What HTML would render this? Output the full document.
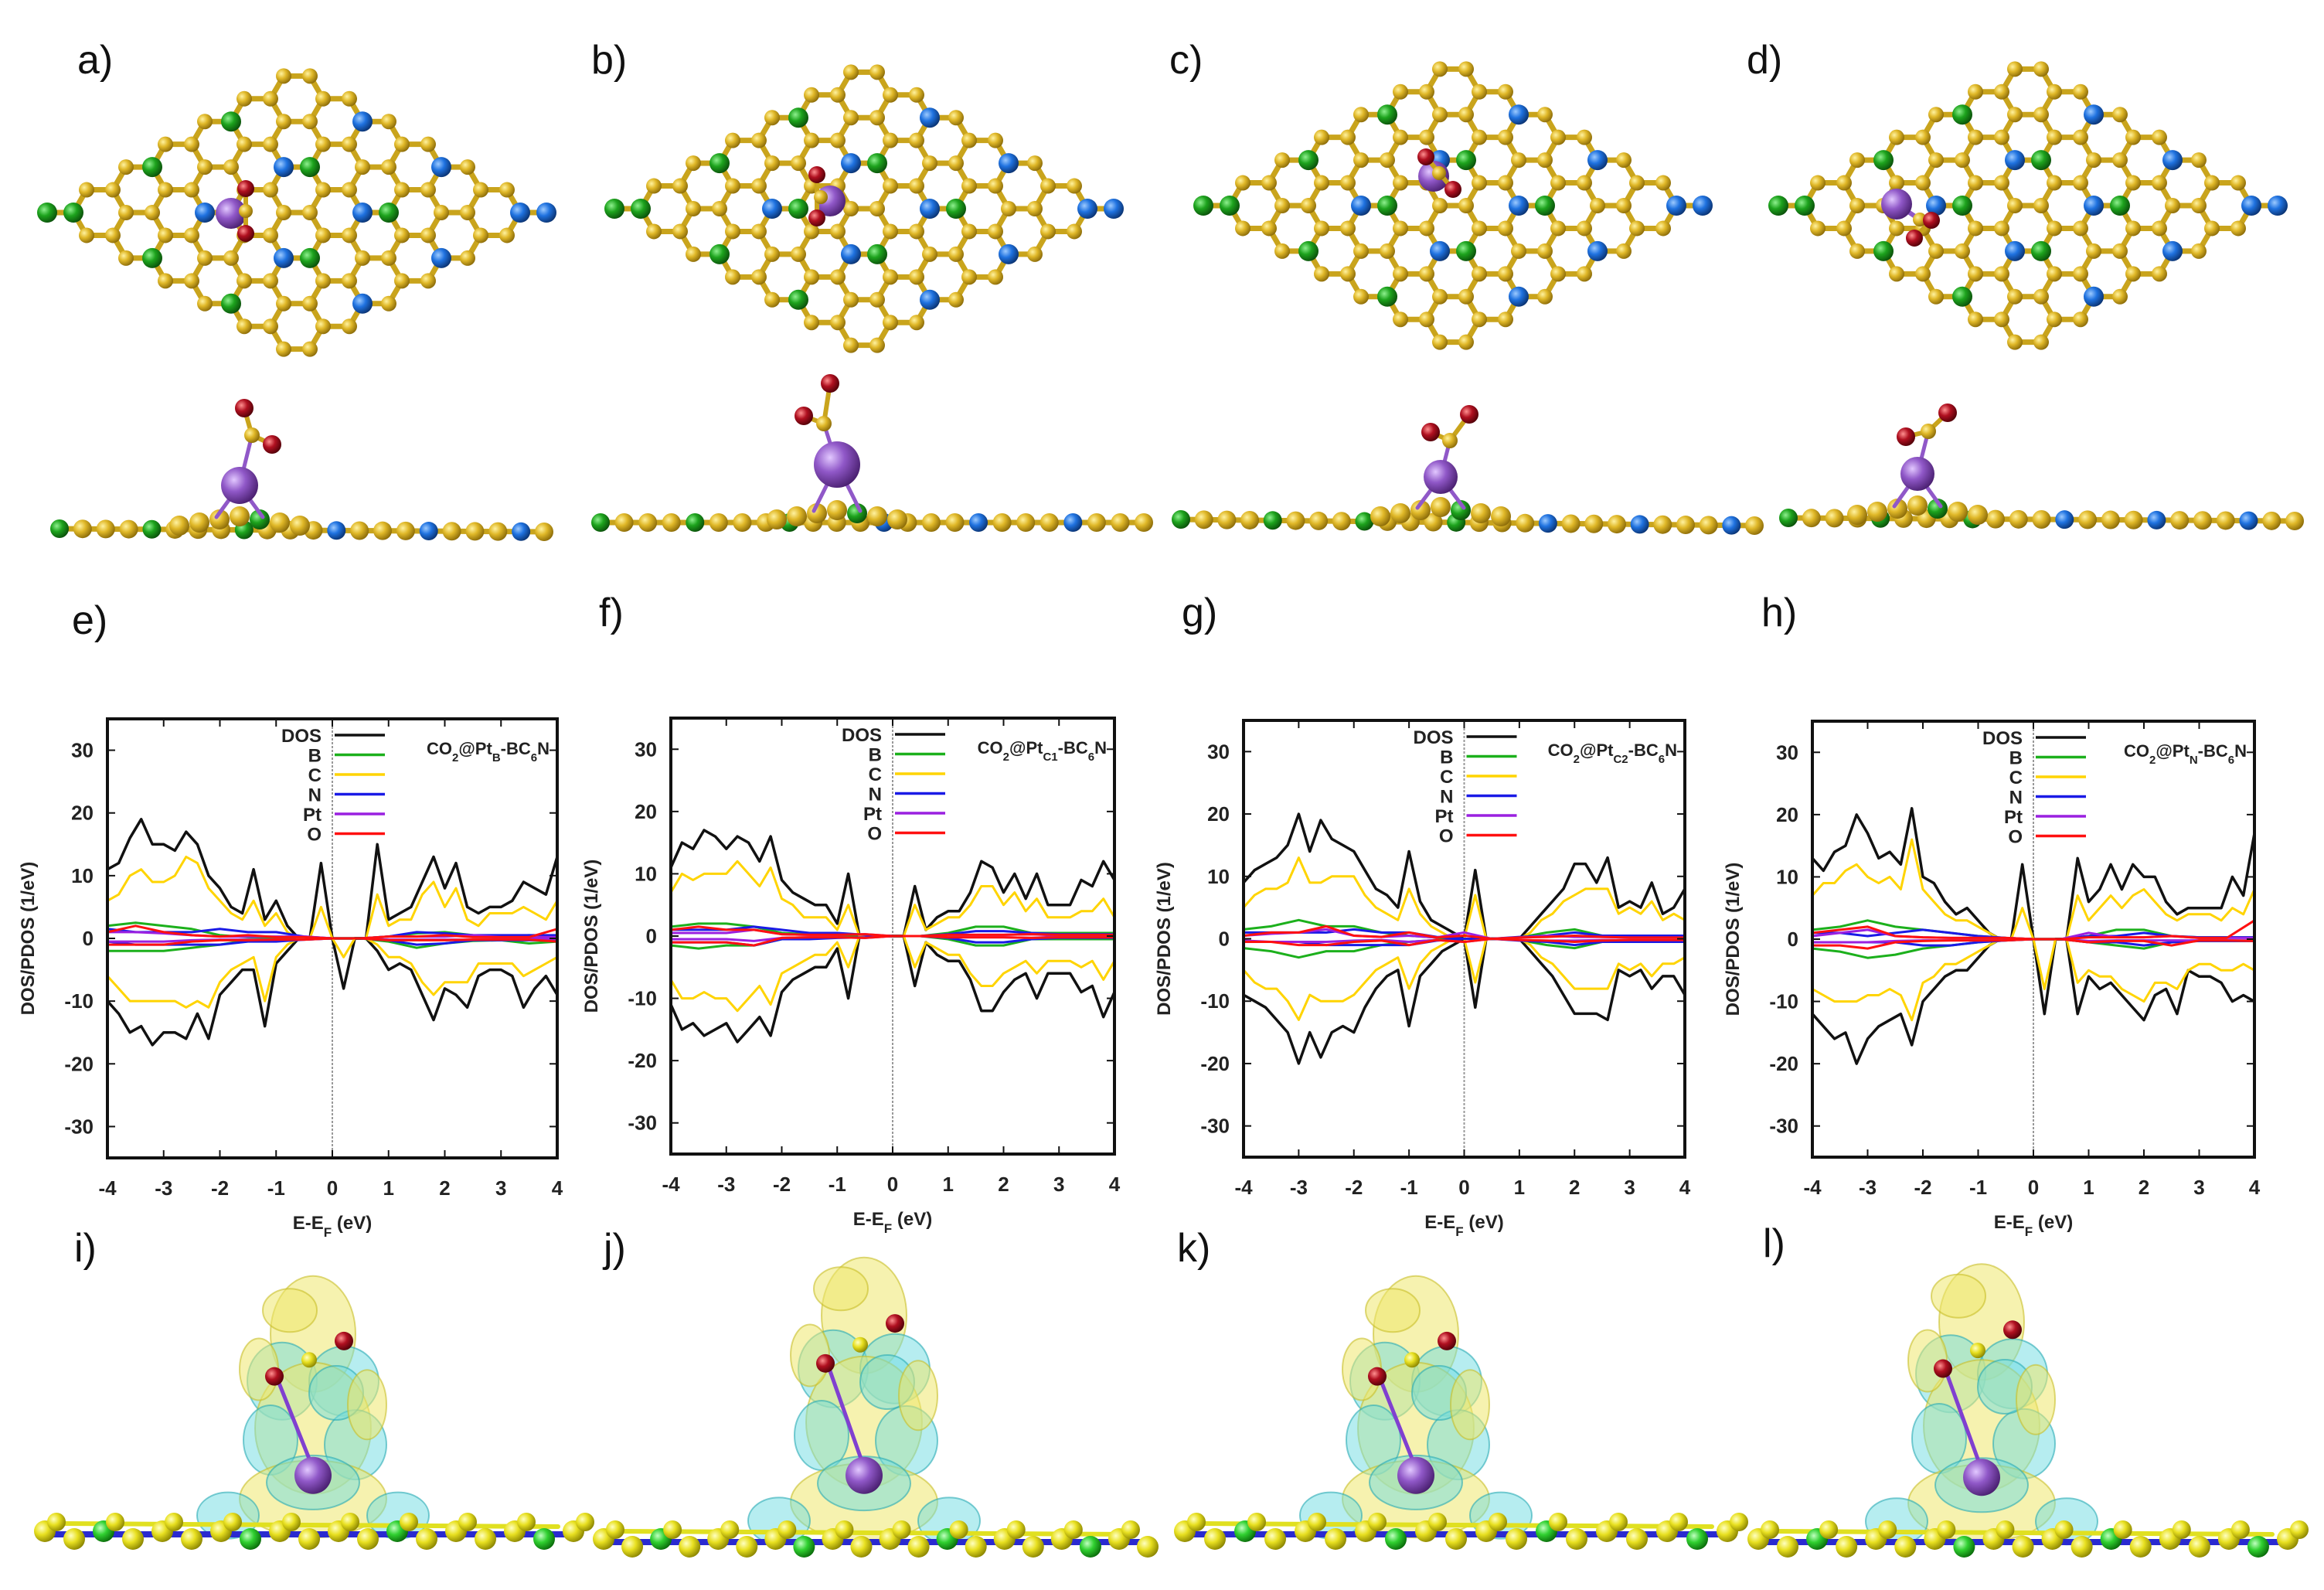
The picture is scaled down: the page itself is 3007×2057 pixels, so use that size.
<!DOCTYPE html>
<html><head><meta charset="utf-8"><style>
html,body{margin:0;padding:0;background:#fff;}
svg{display:block;}
text{font-family:"Liberation Sans",Arial,sans-serif;}
</style></head>
<body>
<svg id="fig" xmlns="http://www.w3.org/2000/svg" width="3007" height="2057" viewBox="0 0 3007 2057">
<defs>
<radialGradient id="g-gold" cx="35%" cy="35%" r="70%"><stop offset="0" stop-color="#fff2a0"/><stop offset="0.45" stop-color="#e0b828"/><stop offset="1" stop-color="#8a6a08"/></radialGradient>
<radialGradient id="g-green" cx="35%" cy="35%" r="70%"><stop offset="0" stop-color="#8ef08e"/><stop offset="0.45" stop-color="#1da31d"/><stop offset="1" stop-color="#0a4f0a"/></radialGradient>
<radialGradient id="g-blue" cx="35%" cy="35%" r="70%"><stop offset="0" stop-color="#9ccaff"/><stop offset="0.45" stop-color="#1f72e0"/><stop offset="1" stop-color="#0a3270"/></radialGradient>
<radialGradient id="g-purple" cx="35%" cy="35%" r="70%"><stop offset="0" stop-color="#e2c8ff"/><stop offset="0.45" stop-color="#9058c8"/><stop offset="1" stop-color="#4a2070"/></radialGradient>
<radialGradient id="g-red" cx="35%" cy="35%" r="70%"><stop offset="0" stop-color="#ff9090"/><stop offset="0.45" stop-color="#b01020"/><stop offset="1" stop-color="#500008"/></radialGradient>
<radialGradient id="g-yellow" cx="35%" cy="35%" r="70%"><stop offset="0" stop-color="#ffffc0"/><stop offset="0.45" stop-color="#e8e020"/><stop offset="1" stop-color="#8a8400"/></radialGradient>
<radialGradient id="g-lgreen" cx="35%" cy="35%" r="70%"><stop offset="0" stop-color="#c0ffc0"/><stop offset="0.45" stop-color="#30d030"/><stop offset="1" stop-color="#0a6a0a"/></radialGradient>
</defs>
<g id="layer"></g>
</svg>
<script>
// ---------- DOS data ----------
const energy = [-4.0,-3.8,-3.6,-3.4,-3.2,-3.0,-2.8,-2.6,-2.4,-2.2,-2.0,-1.8,-1.6,-1.4,-1.2,-1.0,-0.8,-0.6,-0.4,-0.2,0.0,0.2,0.4,0.6,0.8,1.0,1.2,1.4,1.6,1.8,2.0,2.2,2.4,2.6,2.8,3.0,3.2,3.4,3.6,3.8,4.0];
const smallEnergy = [-4.0,-3.5,-3.0,-2.5,-2.0,-1.5,-1.0,-0.5,0.0,0.5,1.0,1.5,2.0,2.5,3.0,3.5,4.0];
const xTicks = [-4,-3,-2,-1,0,1,2,3,4];
const yTicks = [-30,-20,-10,0,10,20,30];
const legendLabels = ["DOS","B","C","N","Pt","O"];

const dosUpE = [11,12,16,19,15,15,14,17,15,10,8,5,4,11,3,6,2,0,0,12,0,0,0,0,15,3,4,5,9,13,8,12,5,4,5,5,6,9,8,7,13];
const dosDnE = [-10,-12,-15,-14,-17,-15,-15,-16,-12,-16,-9,-7,-5,-5,-14,-4,-2,0,0,0,0,-8,0,0,-2,-5,-4,-5,-9,-13,-8,-9,-11,-6,-5,-5,-6,-11,-8,-6,-9];
const cUpE = [6,7,10,11,9,9,10,13,12,8,6,4,3,6,2,4,1,0,0,5,0,0,0,0,7,2,3,3,7,9,5,8,3,2,4,4,4,5,4,3,6];
const cDnE = [-6,-8,-10,-10,-10,-10,-10,-11,-10,-11,-7,-5,-4,-3,-10,-3,-1,0,0,0,0,-3,0,0,-1,-3,-3,-4,-7,-9,-7,-7,-7,-4,-4,-4,-4,-6,-5,-4,-3];

const dosUpF = [11,15,14,17,16,14,16,15,12,16,9,7,6,5,5,2,10,0,0,0,0,0,8,1,3,4,4,7,12,11,7,10,6,10,5,5,5,9,8,12,9];
const dosDnF = [-11,-15,-14,-16,-15,-14,-17,-15,-13,-16,-9,-7,-6,-5,-5,-2,-10,0,0,0,0,0,-8,-1,-3,-4,-4,-7,-12,-12,-9,-7,-6,-10,-6,-6,-6,-9,-8,-13,-9];
const cUpF = [7,10,9,10,10,10,12,10,8,11,6,5,3,3,3,1,5,0,0,0,0,0,5,1,2,3,3,5,8,8,5,7,4,6,3,3,3,4,4,6,3];
const cDnF = [-7,-10,-10,-9,-10,-10,-12,-10,-8,-11,-6,-5,-4,-3,-3,-1,-5,0,0,0,0,0,-5,-1,-2,-3,-3,-6,-8,-8,-6,-5,-4,-6,-4,-4,-4,-5,-4,-7,-4];

const dosUpG = [9,11,12,13,15,20,14,19,16,15,14,11,8,7,5,14,6,3,2,1,0,11,0,0,0,0,2,4,6,8,12,12,9,13,5,6,5,9,4,5,8];
const dosDnG = [-9,-10,-11,-13,-15,-20,-15,-19,-15,-14,-15,-11,-8,-6,-5,-14,-6,-4,-2,-1,0,-11,0,0,0,0,-2,-4,-6,-9,-12,-12,-12,-13,-5,-6,-5,-8,-6,-6,-9];
const cUpG = [5,7,8,8,9,13,9,9,10,10,10,7,5,4,3,8,4,2,1,0,0,7,0,0,0,0,1,3,4,6,7,8,8,8,4,5,4,6,3,4,3];
const cDnG = [-5,-7,-8,-8,-10,-13,-9,-10,-10,-10,-9,-7,-5,-4,-3,-8,-4,-2,-1,0,0,-7,0,0,0,0,-1,-3,-4,-6,-8,-8,-8,-8,-4,-5,-4,-6,-4,-4,-3];

const dosUpH = [13,11,14,15,20,17,13,14,12,21,10,9,6,4,5,3,1,0,0,12,0,0,0,0,13,6,8,12,8,12,10,10,6,4,5,5,5,5,10,7,17];
const dosDnH = [-12,-14,-16,-15,-20,-16,-14,-13,-12,-17,-10,-8,-6,-5,-5,-3,-1,0,0,0,0,-12,0,0,-12,-6,-8,-7,-9,-11,-13,-9,-8,-12,-5,-6,-6,-7,-10,-9,-10];
const cUpH = [7,9,9,11,12,10,9,10,8,16,8,6,4,3,3,2,1,0,0,5,0,0,0,0,7,3,5,7,5,7,8,6,4,3,4,4,4,3,5,4,8];
const cDnH = [-8,-9,-10,-10,-10,-9,-9,-8,-9,-13,-7,-6,-4,-4,-3,-2,-1,0,0,0,0,-8,0,0,-7,-5,-6,-6,-8,-9,-10,-7,-7,-8,-5,-4,-4,-5,-5,-4,-5];

const bUpE = [2,2.5,2,1.5,0.5,0.2,0.1,0,0,0,0.3,0.8,1,0.5,0.3,0.5,0.3];
const bDnE = [-2,-2,-2,-1.5,-1,-0.3,-0.1,0,0,0,-0.5,-1.5,-0.8,-0.4,-0.3,-0.8,-0.5];
const nUpE = [1.5,1,1,1,1.5,1,1,0.3,0,0,0.3,1,0.8,0.5,0.5,0.5,0.5];
const nDnE = [-0.5,-1,-1,-1,-1,-0.5,-0.5,-0.2,0,0,-0.3,-1,-0.8,-0.3,-0.3,-0.3,-0.3];
const oUpE = [1,2,1,0.5,0.3,0.5,0.2,0.2,0,0,0.3,0.3,0.5,0.2,0.2,0.2,1.5];
const oDnE = [-1,-1,-1,-0.5,-0.3,-0.3,-0.2,-0.2,0,0,-0.3,-0.3,-0.3,-0.2,-0.2,-0.2,-0.5];
const ptUpE = [1,1,0.8,0.5,0.3,0.3,0.3,0.3,0,0,0.3,0.3,0.3,0.5,0.2,0.2,0.2];
const ptDnE = [-0.5,-0.5,-0.5,-0.3,-0.2,-0.2,-0.2,-0.2,0,0,-0.2,-0.2,-0.2,-0.2,-0.1,-0.1,-0.1];

const bUpF = [1.5,2,2,1.5,0.5,0.3,0.2,0,0,0,0.5,1.5,1.5,0.5,0.5,0.5,0.5];
const bDnF = [-1.5,-2,-1.5,-1.5,-0.5,-0.3,-0.2,0,0,0,-0.5,-1.5,-1.5,-0.5,-0.5,-0.5,-0.5];
const nUpF = [1,1,1,1.5,1,0.5,0.5,0.2,0,0,0.3,0.8,0.8,0.5,0.3,0.3,0.3];
const nDnF = [-1,-1,-1,-1.5,-0.5,-0.5,-0.3,-0.2,0,0,-0.3,-1,-1,-0.5,-0.3,-0.3,-0.3];
const oUpF = [1,1.5,1,1,0.3,0.2,0.2,0.3,0,0,0.2,0.2,0.2,0.3,0.2,0.2,0.2];
const oDnF = [-1,-1,-1,-1.5,-0.3,-0.2,-0.2,-0.3,0,0,-0.2,-0.2,-0.2,-0.3,-0.2,-0.2,-0.2];
const ptUpF = [0.5,0.5,0.5,1,0.3,0.2,0.2,0.3,0,0,0.2,0.2,0.2,0.3,0.1,0.1,0.1];
const ptDnF = [-0.5,-0.5,-0.5,-0.8,-0.3,-0.2,-0.2,-0.3,0,0,-0.2,-0.2,-0.2,-0.3,-0.1,-0.1,-0.1];

const bUpG = [1.5,2,3,2,2,1,0.5,0.2,0,0,0.2,1,1.5,0.5,0.5,0.5,0.5];
const bDnG = [-1.5,-2,-3,-2,-2,-1,-0.5,-0.2,0,0,-0.2,-1,-1.5,-0.5,-0.5,-0.5,-0.5];
const nUpG = [1,1,1,1,1.5,1,1,0.3,0,0,0.3,0.5,1,0.5,0.5,0.5,0.5];
const nDnG = [-0.5,-0.5,-0.5,-1,-1,-1,-1,-0.3,0,0,-0.3,-0.5,-1,-0.5,-0.5,-0.5,-0.5];
const oUpG = [0.5,1,1,2,0.5,0.3,1,0.2,0.5,0,0.2,0.3,0.5,0.3,0.2,0.2,0.2];
const oDnG = [-0.5,-0.5,-1,-1,-0.5,-0.3,-1,-0.2,-0.5,0,-0.2,-0.3,-0.5,-0.3,-0.2,-0.2,-0.2];
const ptUpG = [0.5,0.8,1,1.5,0.5,0.3,0.5,0.2,1,0,0.2,0.5,0.3,0.3,0.2,0.2,0.2];
const ptDnG = [-0.3,-0.5,-0.5,-0.5,-0.3,-0.2,-0.5,-0.2,-0.5,0,-0.2,-0.3,-0.3,-0.2,-0.2,-0.2,-0.2];

const bUpH = [1.5,2,3,2,1.5,1,0.5,0.2,0,0,0.5,1.5,1.5,0.5,0.3,0.3,0.3];
const bDnH = [-1.5,-2,-3,-2.5,-1.5,-1,-0.5,-0.2,0,0,-0.5,-1,-1.5,-0.5,-0.3,-0.3,-0.3];
const nUpH = [1,1,0.5,1,1.5,1,0.5,0.2,0,0,0.5,0.5,1,0.5,0.3,0.3,0.3];
const nDnH = [-0.5,-0.5,-0.5,-0.5,-1,-1,-0.5,-0.2,0,0,-0.5,-0.5,-1,-0.5,-0.3,-0.3,-0.3];
const oUpH = [1,1.5,2,0.5,0.3,0.2,0.2,0.2,0,0,0.3,0.3,0.3,0.5,0.2,0.2,3];
const oDnH = [-1,-1,-1.5,-0.5,-0.3,-0.2,-0.2,-0.2,0,0,-0.5,-0.3,-0.3,-1,-0.2,-0.2,-0.3];
const ptUpH = [0.5,1,1.5,0.5,0.3,0.2,0.2,0.2,0,0,1,0.3,0.3,0.5,0.2,0.2,0.2];
const ptDnH = [-0.5,-0.5,-0.5,-0.3,-0.2,-0.2,-0.2,-0.2,0,0,-0.3,-0.2,-0.2,-0.2,-0.2,-0.2,-0.2];

// ---------- helpers ----------
const NS = "http://www.w3.org/2000/svg";
const layer = document.getElementById("layer");
function el(tag, parent){ const e = document.createElementNS(NS, tag); (parent||layer).appendChild(e); return e; }
function at(e, k, v){ e.setAttribute(k, v); return e; }

function ball(parent, x, y, r, grad, name){
  const c = el("circle", parent);
  at(c,"cx",x); at(c,"cy",y); at(c,"r",r); at(c,"fill","url(#"+grad+")");
  
  
  return c;
}
function bond(parent, x1,y1,x2,y2,color,w){
  const l = el("line", parent);
  at(l,"x1",x1);at(l,"y1",y1);at(l,"x2",x2);at(l,"y2",y2);
  at(l,"stroke",color);at(l,"stroke-width",w);at(l,"stroke-linecap","round");
  
  
  return l;
}
function label(txt, x, y, size){
  const t = el("text");
  at(t,"x",x);at(t,"y",y);at(t,"font-size",size);at(t,"fill","#111");
  at(t,"font-family","'DejaVu Sans','Liberation Sans',sans-serif");
  t.textContent = txt;
  
  
}

// ---------- top views ----------
function topView(name, cx, cy, pt, oxy){
  const g = el("g");
  
  
  const a = 34, s = Math.sqrt(3)*a;
  const atoms = [];
  function add(x,y,col){
    for(const p of atoms){ if(Math.hypot(p.x-x,p.y-y)<5){ if(col!=="g-gold") p.col=col; return; } }
    atoms.push({x,y,col});
  }
  for(let i=0;i<6;i++) for(let j=0;j<6;j++){
    const hx = cx + ((i-2.5)+(j-2.5))*s*0.866;
    const hy = cy + ((j-2.5)-(i-2.5))*s*0.5;
    for(let k=0;k<6;k++){
      let col = "g-gold";
      if(k===3 && i%2===0 && j%2===0) col = "g-green";
      if(k===0 && i%2===1 && j%2===1) col = "g-blue";
      add(hx + a*Math.cos(k*Math.PI/3), hy + a*Math.sin(k*Math.PI/3), col);
    }
  }
  add(cx-7.5*a-2*a, cy, "g-green"); add(cx+7.5*a+2*a, cy, "g-blue");
  for(let m=0;m<atoms.length;m++) for(let n=m+1;n<atoms.length;n++){
    const d = Math.hypot(atoms[m].x-atoms[n].x, atoms[m].y-atoms[n].y);
    if(d<a*1.1) bond(g, atoms[m].x,atoms[m].y,atoms[n].x,atoms[n].y,"#c9a41c",7);
  }
  atoms.forEach(p=>{
    const nm = p.col==="g-green"?"boron-atom":(p.col==="g-blue"?"nitrogen-atom":"carbon-atom");
    ball(g, p.x, p.y, p.col==="g-gold"?10:13, p.col, nm);
  });
  bond(g, pt.x, pt.y, oxy[2].x, oxy[2].y, "#9058c8", 6);
  ball(g, pt.x, pt.y, 20, "g-purple", "platinum-atom");
  bond(g, oxy[0].x, oxy[0].y, oxy[1].x, oxy[1].y, "#c9a41c", 6);
  ball(g, oxy[2].x, oxy[2].y, 9, "g-gold", "co2-carbon");
  ball(g, oxy[0].x, oxy[0].y, 11, "g-red", "oxygen-atom");
  ball(g, oxy[1].x, oxy[1].y, 11, "g-red", "oxygen-atom");
}
topView("top-view-a", 384, 275, {x:299,y:276}, [{x:318,y:244},{x:318,y:302},{x:318,y:273}]);
topView("top-view-b", 1118, 270, {x:1074,y:260}, [{x:1057,y:226},{x:1057,y:282},{x:1062,y:255}]);
topView("top-view-c", 1880, 266, {x:1855,y:228}, [{x:1845,y:203},{x:1880,y:245},{x:1862,y:224}]);
topView("top-view-d", 2624, 266, {x:2454,y:264}, [{x:2499,y:285},{x:2477,y:308},{x:2484,y:284}]);

// ---------- side views ----------
function sideView(name, x0, x1, y, tilt, pt, o1, o2, c, ptR){
  const g = el("g");
  
  
  const n = Math.round((x1-x0)/30);
  bond(g, x0, y, x1, y+tilt, "#c9a41c", 7);
  for(let k=0;k<=n;k++){
    const x = x0 + (x1-x0)*k/n, yy = y + tilt*k/n;
    let grad = "g-gold", nm="carbon-atom";
    if(k%4===0 && x < (x0+x1)/2) { grad="g-green"; nm="boron-atom"; }
    if(k%4===0 && x >= (x0+x1)/2) { grad="g-blue"; nm="nitrogen-atom"; }
    ball(g, x, yy, 12, grad, nm);
  }
  for(let k=-3;k<=3;k++){ ball(g, pt.x + k*26, y - 16 + Math.abs(k)*4, 13, k===1?"g-green":"g-gold", "carbon-atom-raised"); }
  bond(g, pt.x, pt.y, pt.x-30, y-15, "#9058c8", 5);
  bond(g, pt.x, pt.y, pt.x+30, y-15, "#9058c8", 5);
  bond(g, pt.x, pt.y, c.x, c.y, "#9058c8", 5);
  bond(g, c.x, c.y, o1.x, o1.y, "#c9a41c", 6);
  bond(g, c.x, c.y, o2.x, o2.y, "#c9a41c", 6);
  ball(g, pt.x, pt.y, ptR, "g-purple", "platinum-atom");
  ball(g, c.x, c.y, 10, "g-gold", "co2-carbon");
  ball(g, o1.x, o1.y, 12, "g-red", "oxygen-atom");
  ball(g, o2.x, o2.y, 12, "g-red", "oxygen-atom");
}
sideView("side-view-a", 77, 704, 684, 4, {x:310,y:628}, {x:316,y:528}, {x:352,y:575}, {x:326,y:563}, 24);
sideView("side-view-b", 777, 1480, 676, 0, {x:1083,y:601}, {x:1074,y:496}, {x:1040,y:538}, {x:1066,y:548}, 30);
sideView("side-view-c", 1528, 2270, 672, 8, {x:1864,y:617}, {x:1851,y:559}, {x:1901,y:536}, {x:1876,y:570}, 22);
sideView("side-view-d", 2314, 2969, 670, 4, {x:2481,y:613}, {x:2466,y:565}, {x:2520,y:534}, {x:2495,y:558}, 22);

// ---------- charge density (bottom) ----------
function isoView(name, x0, x1, y, cx, top){
  const g = el("g");
  
  
  const blobs = [[0,0.15,55,75,"y"],[-40,0.35,45,50,"c"],[40,0.35,45,45,"c"],[0,0.55,75,85,"y"],[-55,0.6,35,45,"c"],[55,0.62,40,45,"c"],[0,0.85,95,50,"y"],[-110,0.92,40,30,"c"],[110,0.92,40,30,"c"],[-30,0.05,35,28,"y"],[30,0.4,35,35,"c"],[0,0.78,60,35,"c"],[-70,0.3,25,40,"y"],[70,0.45,25,45,"y"]];
  const h = y - top;
  blobs.forEach(b=>{
    const e = el("ellipse", g);
    at(e,"cx",cx+b[0]);at(e,"cy",top+b[1]*h);at(e,"rx",b[2]);at(e,"ry",b[3]);
    at(e,"fill", b[4]==="y"?"rgba(238,232,110,0.55)":"rgba(110,220,225,0.5)");
    at(e,"stroke", b[4]==="y"?"rgba(200,190,40,0.6)":"rgba(40,170,180,0.6)");
    at(e,"stroke-width",2);
    
    
  });
  bond(g, x0, y, x1, y, "#2a2ad0", 8);
  bond(g, x0+20, y-14, x1-20, y-10, "#e0e020", 6);
  const n = Math.round((x1-x0)/38);
  for(let k=0;k<=n;k++){
    const x = x0 + (x1-x0)*k/n;
    ball(g, x, y + (k%2?6:-4), 14, k%5===2?"g-lgreen":"g-yellow", k%5===2?"boron-atom":"carbon-atom");
    if(k%2===0) ball(g, x+15, y-16, 12, "g-yellow", "carbon-atom");
  }
  bond(g, cx, top+0.72*h, cx-45, top+0.35*h, "#8040d0", 5);
  ball(g, cx, top+0.75*h, 24, "g-purple", "platinum-atom");
  ball(g, cx-50, top+0.33*h, 12, "g-red", "oxygen-atom");
  ball(g, cx+40, top+0.18*h, 12, "g-red", "oxygen-atom");
  ball(g, cx-5, top+0.26*h, 10, "g-yellow", "co2-carbon");
}
isoView("charge-density-i", 58, 742, 1985, 405, 1680);
isoView("charge-density-j", 781, 1485, 1995, 1118, 1650);
isoView("charge-density-k", 1533, 2235, 1985, 1832, 1680);
isoView("charge-density-l", 2275, 2960, 1995, 2564, 1660);

// ---------- panel labels ----------
[["a)",100,95],["b)",765,95],["c)",1513,95],["d)",2260,95],
 ["e)",93,820],["f)",775,810],["g)",1529,810],["h)",2279,810],
 ["i)",96,1632],["j)",781,1632],["k)",1523,1632],["l)",2281,1626]].forEach(p=>label(p[0],p[1],p[2],52));

// ---------- DOS panels ----------
const panels = [
 {id:"e", left:139, right:721, top:930, bottom:1498, sub:"B", dosUp:dosUpE, dosDn:dosDnE, cUp:cUpE, cDn:cDnE, bUp:bUpE, bDn:bDnE, nUp:nUpE, nDn:nDnE, ptUp:ptUpE, ptDn:ptDnE, oUp:oUpE, oDn:oDnE},
 {id:"f", left:868, right:1442, top:929, bottom:1493, sub:"C1", dosUp:dosUpF, dosDn:dosDnF, cUp:cUpF, cDn:cDnF, bUp:bUpF, bDn:bDnF, nUp:nUpF, nDn:nDnF, ptUp:ptUpF, ptDn:ptDnF, oUp:oUpF, oDn:oDnF},
 {id:"g", left:1609, right:2180, top:932, bottom:1497, sub:"C2", dosUp:dosUpG, dosDn:dosDnG, cUp:cUpG, cDn:cDnG, bUp:bUpG, bDn:bDnG, nUp:nUpG, nDn:nDnG, ptUp:ptUpG, ptDn:ptDnG, oUp:oUpG, oDn:oDnG},
 {id:"h", left:2345, right:2917, top:933, bottom:1497, sub:"N", dosUp:dosUpH, dosDn:dosDnH, cUp:cUpH, cDn:cDnH, bUp:bUpH, bDn:bDnH, nUp:nUpH, nDn:nDnH, ptUp:ptUpH, ptDn:ptDnH, oUp:oUpH, oDn:oDnH}
];
const colors = {DOS:"#111111", B:"#1cb01c", C:"#ffd400", N:"#1a1ae6", Pt:"#9a20e0", O:"#ff1010"};

function xS(p, e){ return p.left + (e+4)/8*(p.right-p.left); }
function yS(p, v){ return (p.top+p.bottom)/2 - v*(p.bottom-p.top)/70; }

function series(g, p, xs, ys, color, w, name){
  const pl = el("polyline", g);
  at(pl,"points", xs.map((x,i)=>xS(p,x).toFixed(1)+","+yS(p,ys[i]).toFixed(1)).join(" "));
  at(pl,"fill","none");at(pl,"stroke",color);at(pl,"stroke-width",w);at(pl,"stroke-linejoin","round");
  
  
}

panels.forEach(p=>{
  const g = el("g");
  
  
  const cx0 = xS(p,0);
  const zl = el("line", g);
  at(zl,"x1",cx0);at(zl,"x2",cx0);at(zl,"y1",p.top);at(zl,"y2",p.bottom);
  at(zl,"stroke","#999");at(zl,"stroke-width",2);at(zl,"stroke-dasharray","3,2");
  
  
  series(g,p,energy,p.dosUp,colors.DOS,3.5,'dos-spin-up');
  series(g,p,energy,p.dosDn,colors.DOS,3.5,'dos-spin-down');
  series(g,p,smallEnergy,p.bUp,colors.B,3,'b-pdos-spin-up');
  series(g,p,smallEnergy,p.bDn,colors.B,3,'b-pdos-spin-down');
  series(g,p,energy,p.cUp,colors.C,3,'c-pdos-spin-up');
  series(g,p,energy,p.cDn,colors.C,3,'c-pdos-spin-down');
  series(g,p,smallEnergy,p.nUp,colors.N,3,'n-pdos-spin-up');
  series(g,p,smallEnergy,p.nDn,colors.N,3,'n-pdos-spin-down');
  series(g,p,smallEnergy,p.ptUp,colors.Pt,3,'pt-pdos-spin-up');
  series(g,p,smallEnergy,p.ptDn,colors.Pt,3,'pt-pdos-spin-down');
  series(g,p,smallEnergy,p.oUp,colors.O,3,'o-pdos-spin-up');
  series(g,p,smallEnergy,p.oDn,colors.O,3,'o-pdos-spin-down');
  const fr = el("rect", g);
  at(fr,"x",p.left);at(fr,"y",p.top);at(fr,"width",p.right-p.left);at(fr,"height",p.bottom-p.top);
  at(fr,"fill","none");at(fr,"stroke","#111");at(fr,"stroke-width",4);
  
  
  xTicks.forEach(v=>{
    const x = xS(p,v);
    [[p.bottom,p.bottom-10],[p.top,p.top+10]].forEach(t=>{
      const tl = el("line", g); at(tl,"x1",x);at(tl,"x2",x);at(tl,"y1",t[0]);at(tl,"y2",t[1]);at(tl,"stroke","#111");at(tl,"stroke-width",2);
      
      
    });
    const tx = el("text", g);
    at(tx,"x",x);at(tx,"y",p.bottom+48);at(tx,"text-anchor","middle");at(tx,"font-size",26);at(tx,"font-weight","bold");at(tx,"fill","#222");
    tx.textContent = String(v);
    
    
  });
  yTicks.forEach(v=>{
    const y = yS(p,v);
    [[p.left,p.left+10],[p.right,p.right-10]].forEach(t=>{
      const tl = el("line", g); at(tl,"x1",t[0]);at(tl,"x2",t[1]);at(tl,"y1",y);at(tl,"y2",y);at(tl,"stroke","#111");at(tl,"stroke-width",2);
      
      
    });
    const ty = el("text", g);
    at(ty,"x",p.left-18);at(ty,"y",y+9);at(ty,"text-anchor","end");at(ty,"font-size",26);at(ty,"font-weight","bold");at(ty,"fill","#222");
    ty.textContent = String(v);
    
    
  });
  const yt = el("text", g);
  const yx = p.left-95, yy = (p.top+p.bottom)/2;
  at(yt,"x",yx);at(yt,"y",yy);at(yt,"transform","rotate(-90 "+yx+" "+yy+")");at(yt,"text-anchor","middle");at(yt,"font-size",24);at(yt,"font-weight","bold");at(yt,"fill","#222");
  yt.textContent = "DOS/PDOS (1/eV)";
  
  
  const xt = el("text", g);
  at(xt,"x",cx0);at(xt,"y",p.bottom+92);at(xt,"text-anchor","middle");at(xt,"font-size",24);at(xt,"font-weight","bold");at(xt,"fill","#222");
  xt.innerHTML = 'E-E<tspan baseline-shift="sub" font-size="17">F</tspan> (eV)';
  
  
  legendLabels.forEach((lab,i)=>{
    const ly = p.top + 21 + i*25.5;
    const lt = el("text", g);
    at(lt,"x",cx0-14);at(lt,"y",ly+9);at(lt,"text-anchor","end");at(lt,"font-size",24);at(lt,"font-weight","bold");at(lt,"fill","#222");
    lt.textContent = lab;
    
    
    const ll = el("line", g);
    at(ll,"x1",cx0+3);at(ll,"x2",cx0+68);at(ll,"y1",ly);at(ll,"y2",ly);at(ll,"stroke",colors[lab]);at(ll,"stroke-width",3.5);
    
    
  });
  const tt = el("text", g);
  at(tt,"x",p.right-10);at(tt,"y",p.top+46);at(tt,"text-anchor","end");at(tt,"font-size",22);at(tt,"font-weight","bold");at(tt,"fill","#222");
  tt.innerHTML = 'CO<tspan baseline-shift="sub" font-size="15">2</tspan>@Pt<tspan baseline-shift="sub" font-size="15">'+p.sub+'</tspan>-BC<tspan baseline-shift="sub" font-size="15">6</tspan>N';
  
  
});
</script>
</body></html>
